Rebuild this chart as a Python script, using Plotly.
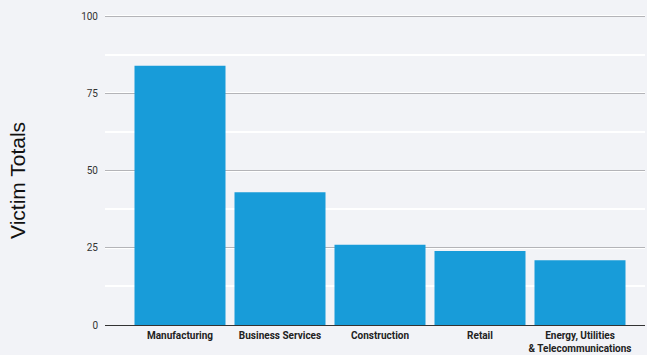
import plotly.graph_objects as go

categories = ["Manufacturing", "Business Services", "Construction", "Retail",
              "Energy, Utilities<br>& Telecommunications"]
values = [84, 43, 26, 24, 21]
y_ticks = [0, 25, 50, 75, 100]

W, H = 647, 355
L, R, T, B = 105, 2, 15, 30

fig = go.Figure(go.Bar(
    x=list(range(len(categories))), y=values,
    marker=dict(color="#189cd9", line=dict(width=0)),
    width=0.91,
))

fig.update_layout(
    width=W, height=H,
    margin=dict(l=L, r=R, t=T, b=B, autoexpand=False),
    paper_bgcolor="#f2f3f7", plot_bgcolor="#f2f3f7",
    font=dict(family="Roboto", color="#333333", size=10),
    showlegend=False,
    xaxis=dict(
        tickmode="array", tickvals=list(range(len(categories))),
        ticktext=["<b>" + c.replace("<br>", "</b><br><b>") + "</b>" for c in categories],
        range=[-0.75, 4.65], showgrid=False, zeroline=False,
        showline=True, linecolor="#333333", linewidth=1, automargin=False,
        tickfont=dict(size=10, color="#222222"), ticks="", ticklabelstandoff=1,
    ),
    yaxis=dict(
        range=[0, 100.4], tickvals=y_ticks, automargin=False,
        showgrid=True, gridcolor="#b4b4b8", gridwidth=1,
        zeroline=False, ticks="", ticklabelstandoff=6,
        tickfont=dict(size=10, color="#333333"),
        minor=dict(dtick=12.5, showgrid=True, gridcolor="#ffffff", gridwidth=2),
    ),
    annotations=[dict(
        text="Victim Totals", textangle=-90, showarrow=False,
        xref="paper", yref="paper",
        x=(17 - L) / (W - L - R), y=1 - (181 - T) / (H - T - B),
        xanchor="center", yanchor="middle",
        font=dict(family="Liberation Sans", size=21, color="#111111"),
    )],
)
fig.update_xaxes(layer="above traces")
fig.write_html("out.html")
